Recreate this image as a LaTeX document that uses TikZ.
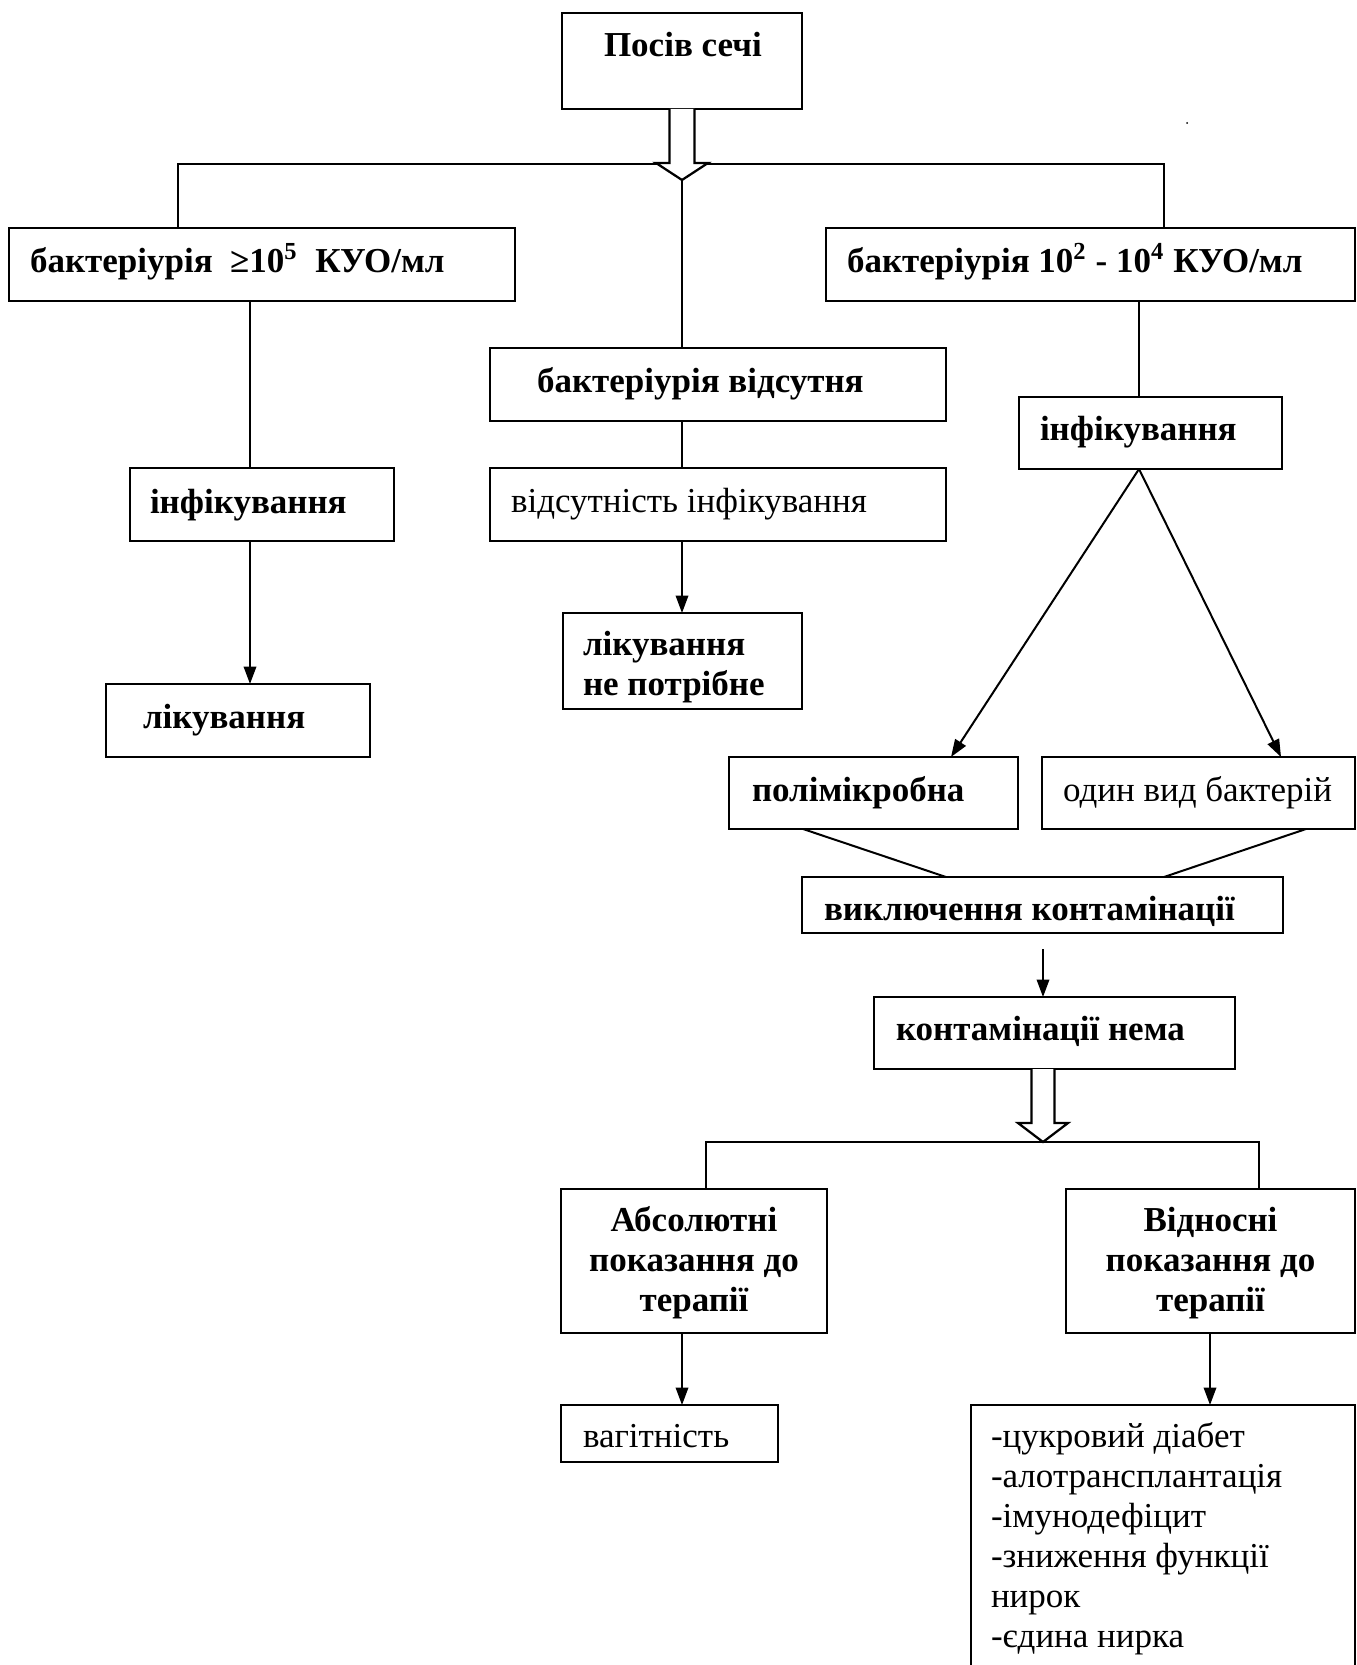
\documentclass[tikz,border=0pt]{standalone}
\usepackage{fontspec}
\setmainfont{Liberation Serif}
\usetikzlibrary{arrows.meta,calc}
\newcommand\mybx[3]{\makebox[#1][l]{\hspace*{#2}#3}}
\begin{document}
\begin{tikzpicture}[x=0.4pt,y=-0.4pt,
  box/.style={draw, line width=1.1pt, anchor=north west, inner sep=0pt, outer sep=0pt,
    font=\fontsize{14pt}{16pt}\selectfont\bfseries},
  boxr/.style={box, font=\fontsize{14pt}{16pt}\selectfont},
  conn/.style={line width=0.8pt},
  arr/.style={conn, -{Triangle[length=7pt,width=5pt]}},
  fat/.style={line width=0.9pt, fill=white, line join=miter}]
\path[use as bounding box] (0,0) rectangle (1357,1665);
\clip (0,0) rectangle (1357,1665);

% boxes
\node[box, text height=17.6pt, text depth=20.8pt] (T) at (562,13) {\mybx{96pt}{16.8pt}{Посів сечі}};
\node[box, text height=18pt, text depth=11.2pt] (A) at (9,228) {\mybx{202.4pt}{8.4pt}{бактеріурія \ ≥10\textsuperscript{5} \ КУО/мл}};
\node[box, text height=18pt, text depth=11.2pt] (C) at (826,228) {\mybx{211.6pt}{8.4pt}{бактеріурія 10\textsuperscript{2} - 10\textsuperscript{4} КУО/мл}};
\node[box, text height=17.6pt, text depth=11.6pt] (B1) at (490,348) {\mybx{182.4pt}{18.8pt}{бактеріурія відсутня}};
\node[boxr, text height=17.6pt, text depth=11.6pt] (B2) at (490,468) {\mybx{182.4pt}{8.4pt}{відсутність інфікування}};
\node[box, text height=16.8pt, text depth=21.6pt] (B3) at (563,613) {\mybx{95.6pt}{8pt}{\parbox[t]{100pt}{\raggedright лікування\\не потрібне}}};
\node[box, text height=18pt, text depth=11.2pt] (A1) at (130,468) {\mybx{105.6pt}{8pt}{інфікування}};
\node[box, text height=17.6pt, text depth=11.6pt] (A2) at (106,684) {\mybx{105.6pt}{14.8pt}{лікування}};
\node[box, text height=17.2pt, text depth=11.6pt] (C1) at (1019,397) {\mybx{105.2pt}{8.4pt}{інфікування}};
\node[box, text height=17.6pt, text depth=11.2pt] (P) at (729,757) {\mybx{115.6pt}{9.2pt}{полімікробна}};
\node[boxr, text height=17.6pt, text depth=11.2pt] (Q) at (1042,757) {\mybx{125.2pt}{8.4pt}{один вид бактерій}};
\node[box, text height=17.2pt, text depth=5.2pt] (E) at (802,877) {\mybx{192.4pt}{8.8pt}{виключення контамінації}};
\node[box, text height=17.2pt, text depth=11.6pt] (F) at (874,997) {\mybx{144.4pt}{8.8pt}{контамінації нема}};
\node[box, text height=16.8pt, text depth=40.8pt] (G) at (561,1189) {\parbox[t]{106.4pt}{\centering Абсолютні\\показання до\\терапії}};
\node[box, text height=16.8pt, text depth=40.8pt] (H) at (1066,1189) {\parbox[t]{115.6pt}{\centering Відносні\\показання до\\терапії}};
\node[boxr, text height=16.8pt, text depth=6pt] (I) at (561,1405) {\mybx{86.8pt}{8.8pt}{вагітність}};
\node[boxr, text height=16.8pt, text depth=130pt] (J) at (971,1405) {\mybx{153.6pt}{8pt}{\parbox[t]{145pt}{\raggedright -цукровий діабет\\-алотрансплантація\\-імунодефіцит\\-зниження функції\\нирок\\-єдина нирка}}};

% helper coordinates
\coordinate (hl) at (178,164);
\coordinate (hr) at (1164,164);
\coordinate (xl) at (250,0);
\coordinate (xr) at (1139,0);
\coordinate (pin) at (951,0);
\coordinate (qin) at (1281,0);
\coordinate (po) at (803,0);
\coordinate (qo) at (1306,0);
\coordinate (e1) at (946,0);
\coordinate (e2) at (1164,0);
\coordinate (ea) at (1043,949);
\coordinate (gl) at (706,1142);
\coordinate (gr) at (1259,1142);
\coordinate (gx) at (682,0);
\coordinate (hx) at (1210,0);

% top split
\draw[conn] (A.north -| hl) -- (hl) -- (hr) -- (C.north -| hr);
\draw[fat] ($(T.south)+(-12.5,0)$) -- ($(T.south)+(-12.5,54)$) -- ($(T.south)+(-26,54)$)
  -- ($(T.south)+(0,71)$) coordinate (tip) -- ($(T.south)+(26,54)$) -- ($(T.south)+(12.5,54)$) -- ($(T.south)+(12.5,0)$);
\draw[conn] (tip) -- (B1.north -| tip);
\draw[conn] (B1.south -| tip) -- (B2.north -| tip);
\draw[arr] (B2.south -| tip) -- (B3.north -| tip);

% left branch
\draw[conn] (A.south -| xl) -- (A1.north -| xl);
\draw[arr] (A1.south -| xl) -- (A2.north -| xl);

% right branch
\draw[conn] (C.south -| xr) -- (C1.north -| xr);
\draw[arr] (C1.south -| xr) -- (P.north -| pin);
\draw[arr] (C1.south -| xr) -- (Q.north -| qin);
\draw[conn] (P.south -| po) -- (E.north -| e1);
\draw[conn] (Q.south -| qo) -- (E.north -| e2);
\draw[arr] (ea) -- (F.north -| ea);

% lower split
\draw[conn] (G.north -| gl) -- (gl) -- (gr) -- (H.north -| gr);
\draw[fat] ($(F.south -| ea)+(-11.5,0)$) -- ($(F.south -| ea)+(-11.5,54)$) -- ($(F.south -| ea)+(-25,54)$)
  -- ($(F.south -| ea)+(0,73)$) -- ($(F.south -| ea)+(25,54)$) -- ($(F.south -| ea)+(11.5,54)$) -- ($(F.south -| ea)+(11.5,0)$);
\draw[arr] (G.south -| gx) -- (I.north -| gx);
\draw[arr] (H.south -| hx) -- (J.north -| hx);

\fill (1187,123) circle[radius=1];
\end{tikzpicture}
\end{document}
